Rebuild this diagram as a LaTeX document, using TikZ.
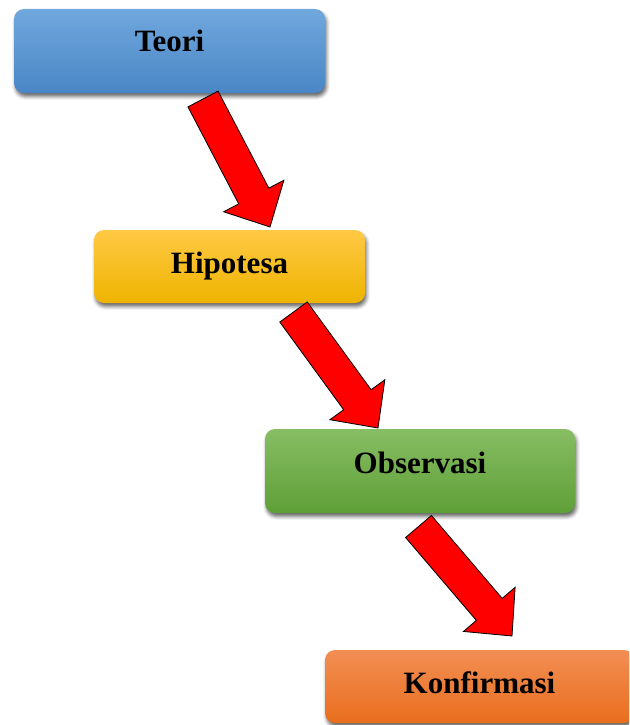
\documentclass[tikz,border=0pt]{standalone}
\usepackage{fontspec}
\setmainfont{Liberation Serif}
\usetikzlibrary{calc,shadows.blur}
\definecolor{bTop}{HTML}{70A8DD}
\definecolor{bBot}{HTML}{4A86C6}
\definecolor{yTop}{HTML}{FFC945}
\definecolor{yBot}{HTML}{EEB400}
\definecolor{gTop}{HTML}{87BD64}
\definecolor{gBot}{HTML}{5F9F37}
\definecolor{oTop}{HTML}{F28E54}
\definecolor{oBot}{HTML}{E96E1D}
\definecolor{arrowred}{HTML}{FF0000}
\tikzset{
  stepbox/.style={rounded corners=10pt, inner sep=0pt, outer sep=0pt, anchor=north west,
    blur shadow={shadow xshift=1.5pt, shadow yshift=-3.5pt, shadow blur radius=3.5pt, shadow opacity=60}},
  lbl/.style={anchor=base, inner sep=0pt, font=\fontsize{31}{31}\selectfont\bfseries},
  blockarrow/.style={fill=arrowred, draw=black, line width=0.8pt, line join=miter}
}
\newcommand{\blockarr}[2]{%
  \draw[blockarrow]
    ($(#1)!17pt!90:(#2)$) --
    ($($(#2)!35pt!(#1)$)!17pt!-90:(#1)$) --
    ($($(#2)!35pt!(#1)$)!34pt!-90:(#1)$) --
    (#2) --
    ($($(#2)!35pt!(#1)$)!34pt!90:(#1)$) --
    ($($(#2)!35pt!(#1)$)!17pt!90:(#1)$) --
    ($(#1)!17pt!-90:(#2)$) -- cycle;}
\begin{document}
\begin{tikzpicture}[x=1pt,y=-1pt]
\useasboundingbox (0,0) rectangle (629,725);
\clip (0,0) rectangle (629,725);
% boxes
\node[stepbox, top color=bTop, bottom color=bBot, minimum width=311pt, minimum height=84pt] (teori) at (14,9) {};
\node[stepbox, top color=yTop, bottom color=yBot, minimum width=271pt, minimum height=73pt] (hipo) at (94,230) {};
\node[stepbox, top color=gTop, bottom color=gBot, minimum width=310pt, minimum height=84pt] (obs) at (265,429) {};
\node[stepbox, top color=oTop, bottom color=oBot, minimum width=309pt, minimum height=73pt] (konf) at (325,650) {};
% labels
\node[lbl] (tteori) at ($(teori.north)+(0,43)$) {Teori};
\node[lbl] (thipo) at ($(hipo.north)+(0,43)$) {Hipotesa};
\node[lbl] (tobs) at ($(obs.north)+(0,44)$) {Observasi};
\node[lbl] (tkonf) at ($(konf.north)+(0,43)$) {Konfirmasi};
% arrow ends
\coordinate (a1t) at (203,99);
\coordinate (a1h) at (270,227);
\coordinate (a2t) at (293.5,312);
\coordinate (a2h) at (378,428);
\coordinate (a3t) at (418.5,526.5);
\coordinate (a3h) at (512,636);
\blockarr{a1t}{a1h}
\blockarr{a2t}{a2h}
\blockarr{a3t}{a3h}
\end{tikzpicture}
\end{document}
